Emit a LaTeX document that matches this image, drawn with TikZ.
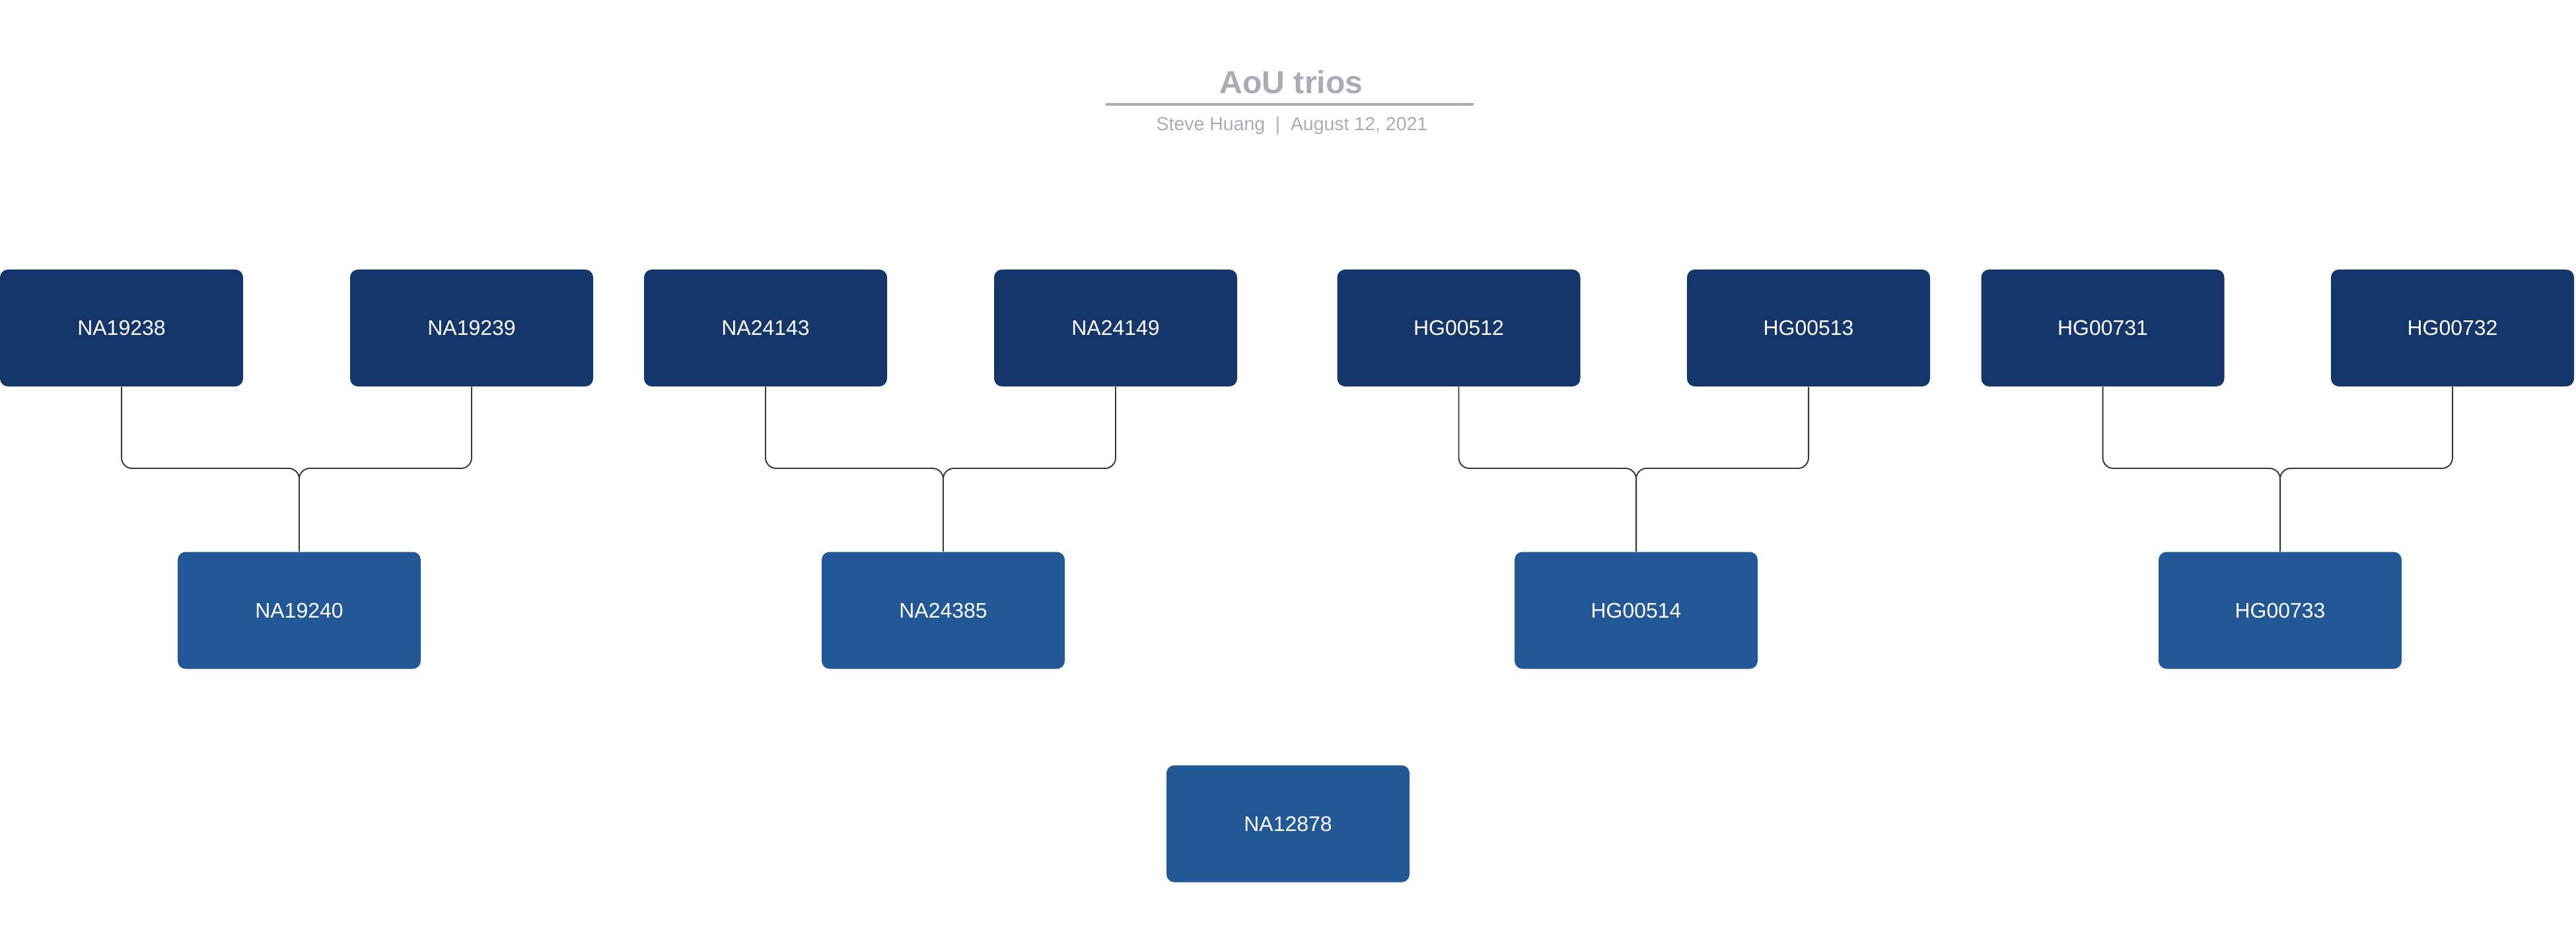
\documentclass[tikz,border=0pt]{standalone}
\usepackage{fontspec}
\setmainfont{Liberation Sans}
\usetikzlibrary{calc}
\definecolor{parentblue}{RGB}{20,54,106}
\definecolor{childblue}{RGB}{35,88,150}
\definecolor{titlegray}{RGB}{168,173,181}
\definecolor{linkgray}{RGB}{55,55,55}
\tikzset{
  parentbox/.style={fill=parentblue, text=white, rounded corners=0.12cm, minimum width=3.68cm, minimum height=1.77cm, font=\fontsize{9.1pt}{11pt}\selectfont},
  childbox/.style={parentbox, fill=childblue},
  link/.style={draw=linkgray, line width=0.55pt, rounded corners=0.16cm}
}
\newcommand\pbox[4]{
\node[parentbox] (#1) at (#2,#3) {#4};
}
\newcommand\cbox[4]{
\node[childbox] (#1) at (#2,#3) {#4};
}
\newcommand\trio[3]{
\draw[link] (#1.south) |- (#3.north |- jrow) -- (#3.north);
\draw[link] (#2.south) |- (#3.north |- jrow) -- (#3.north);
}

\begin{document}
\begin{tikzpicture}
\useasboundingbox (0,0) rectangle (39,-14.19);

% title
\node[anchor=base, text=titlegray, font=\fontsize{13.7pt}{16pt}\selectfont\bfseries] (title) at (19.55,-1.41) {AoU trios};
\draw[titlegray, line width=1.1pt] (16.74,-1.58) -- (22.31,-1.58);
\node[anchor=base, text=titlegray, font=\fontsize{8.1pt}{10pt}\selectfont] (byline) at (19.56,-1.97) {Steve Huang\hspace{0.55em}|\hspace{0.55em}August 12, 2021};

\coordinate (jrow) at (0,-7.09);

\pbox{na19238}{1.84}{-4.965}{NA19238}
\pbox{na19239}{7.14}{-4.965}{NA19239}
\pbox{na24143}{11.59}{-4.965}{NA24143}
\pbox{na24149}{16.89}{-4.965}{NA24149}
\pbox{hg00512}{22.085}{-4.965}{HG00512}
\pbox{hg00513}{27.38}{-4.965}{HG00513}
\pbox{hg00731}{31.835}{-4.965}{HG00731}
\pbox{hg00732}{37.13}{-4.965}{HG00732}

\cbox{na19240}{4.53}{-9.24}{NA19240}
\cbox{na24385}{14.28}{-9.24}{NA24385}
\cbox{hg00514}{24.77}{-9.24}{HG00514}
\cbox{hg00733}{34.52}{-9.24}{HG00733}

\cbox{na12878}{19.50}{-12.47}{NA12878}

\trio{na19238}{na19239}{na19240}
\trio{na24143}{na24149}{na24385}
\trio{hg00512}{hg00513}{hg00514}
\trio{hg00731}{hg00732}{hg00733}

\end{tikzpicture}
\end{document}
